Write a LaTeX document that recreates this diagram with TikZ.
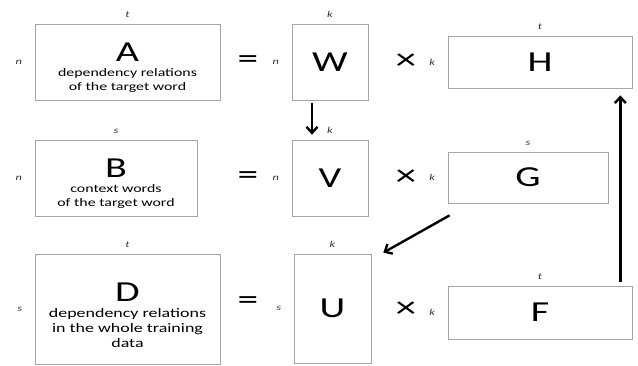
\documentclass[tikz,border=0pt]{standalone}
\usepackage{fontspec}
\setmainfont{Carlito}[FakeStretch=1.38]
\usetikzlibrary{arrows.meta}
\newcommand\bigletter{\fontsize{29}{30}\selectfont}

\begin{document}
\begin{tikzpicture}[x=1pt,y=-1pt]
	\tikzset{mat/.style={draw=gray!70,line width=0.7pt,inner sep=0pt,align=center,font=\bigletter},
		descmat/.style={mat,font=\fontsize{11.5}{14}\selectfont},
		dim/.style={font=\fontsize{9}{9}\selectfont\itshape,text=black!80},
		cols/.style={label={[dim,label distance=3pt]above:#1}},
		rows/.style={label={[dim,label distance=9pt]left:#1}},
		op/.style={font=\fontsize{30}{30}\selectfont}}
	\useasboundingbox (0,0) rectangle (638,366);
	% first row
	\node[descmat,rows=n,cols=t,minimum width=185pt,minimum height=76pt] (A) at (127.5,62) {{\bigletter\rule{0pt}{29pt}A}\\[1pt]dependency relations\\of the target word};
	\node[op] (eqA) at (248,62) {=};
	\node[mat,rows=n,cols=k,minimum width=76pt,minimum height=76pt] (W) at (330,62) {W};
	\node[op] (tmA) at (406,62) {×};
	\node[mat,rows=k,cols=t,minimum width=184pt,minimum height=52pt] (H) at (540,62) {H};
	% second row
	\node[descmat,rows=n,cols=s,minimum width=162pt,minimum height=76pt] (B) at (116,178) {{\bigletter\rule{0pt}{29pt}B}\\[1pt]context words\\of the target word};
	\node[op] (eqB) at (248,178) {=};
	\node[mat,rows=n,cols=k,minimum width=76pt,minimum height=76pt] (V) at (330,178) {V};
	\node[op] (tmB) at (406,178) {×};
	\node[mat,rows=k,cols=s,minimum width=160pt,minimum height=51pt] (G) at (528,177.5) {G};
	% third row
	\node[descmat,font=\fontsize{13}{15}\selectfont,rows=s,cols=t,minimum width=185pt,minimum height=110pt] (D) at (127.5,309) {{\bigletter\rule{0pt}{32pt}D}\\[1pt]dependency relations\\in the whole training\\data};
	\node[op] (eqD) at (248,303) {=};
	\node[mat,rows=s,cols=k,minimum width=77pt,minimum height=109pt] (U) at (332.5,308.5) {U};
	\node[op] (tmD) at (406,310) {×};
	\node[mat,rows=k,cols=t,minimum width=184pt,minimum height=53pt] (F) at (540,312.5) {F};
	% arrows
	\tikzset{flow/.style={line width=2.4pt,-{Straight Barb[length=6pt,width=11pt]}}}
	\draw[flow] ([shift={(-18,3)}]W.south) -- ([shift={(-18,-5)}]V.north);
	\draw[flow] ([shift={(2,12)}]G.south west) -- ([shift={(12,-1)}]U.north east);
	\draw[flow] ([shift={(-12,-4)}]F.north east) -- ([shift={(-12,7)}]H.south east);
\end{tikzpicture}
\end{document}
